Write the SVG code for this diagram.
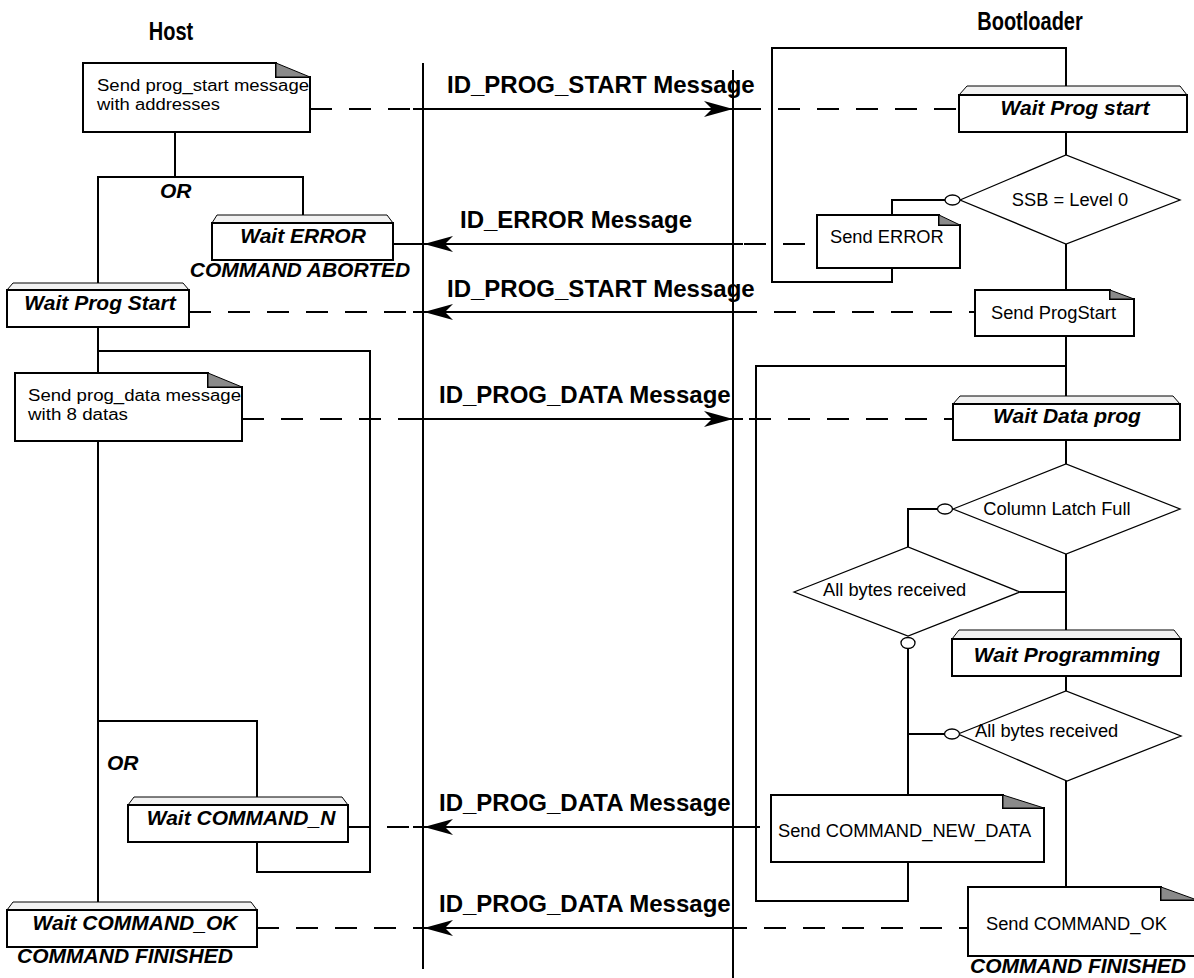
<svg xmlns="http://www.w3.org/2000/svg" width="1194" height="978" viewBox="0 0 1194 978">
<style>
.box{fill:#fff;stroke:#000;stroke-width:2}
.fold{fill:#8a8a8a;stroke:#000;stroke-width:1}
.bevel{fill:#f2f2f2;stroke:#000;stroke-width:1}
.dia{fill:#fff;stroke:#000;stroke-width:1.3}
.ln{fill:none;stroke:#000;stroke-width:2}
.dash{fill:none;stroke:#000;stroke-width:2;stroke-dasharray:22 17}
.circ{fill:#fff;stroke:#000;stroke-width:1.3}
text{font-family:"Liberation Sans",Arial,Helvetica,sans-serif;fill:#000}
.t{font-size:18.3px}
.t2{font-size:16px}
.s{font-size:21px;font-weight:bold;font-style:italic}
.m{font-size:24px;font-weight:bold}
.h{font-size:20px;font-weight:bold}
</style>
<defs>
<marker id="arr" viewBox="0 0 30 18" refX="29" refY="9" markerWidth="30" markerHeight="18" markerUnits="userSpaceOnUse" orient="auto">
<path d="M29,9 L0,1 L8,9 L0,17 Z" fill="#000"/>
</marker>
</defs>
<g id="titles">
<text class="h" transform="translate(171,40) scale(1,1.25)" text-anchor="middle">Host</text>
<text class="h" transform="translate(1030,30) scale(1,1.25)" text-anchor="middle">Bootloader</text>
</g>
<g id="connectors">
<line class="ln" x1="423" y1="63" x2="423" y2="969"/>
<line class="ln" x1="733" y1="70" x2="733" y2="978"/>
<polyline class="ln" points="175,132 175,177"/>
<polyline class="ln" points="98,283 98,177 303,177 303,215"/>
<polyline class="ln" points="98,327 98,902"/>
<polyline class="ln" points="98,351 370,351 370,872 257,872 257,842"/>
<polyline class="ln" points="98,721 257,721 257,797"/>
<polyline class="ln" points="892,268 892,282 772,282 772,48 1066,48 1066,86"/>
<polyline class="ln" points="1066,132 1066,155"/>
<polyline class="ln" points="892,215 892,200 945,200"/>
<polyline class="ln" points="1066,244 1066,290"/>
<polyline class="ln" points="1066,336 1066,396"/>
<polyline class="ln" points="1066,366 756,366 756,901 908,901 908,862"/>
<polyline class="ln" points="1066,440 1066,464"/>
<polyline class="ln" points="938,509 908,509 908,547"/>
<polyline class="ln" points="1066,554 1066,630"/>
<polyline class="ln" points="1020,592 1066,592"/>
<polyline class="ln" points="908,648 908,795"/>
<polyline class="ln" points="945,734 908,734"/>
<polyline class="ln" points="1066,676 1066,691"/>
<polyline class="ln" points="1066,781 1066,887"/>
<line class="dash" x1="310" y1="109" x2="959" y2="109"/>
<line class="ln" x1="413" y1="109" x2="743" y2="109"/>
<line class="ln" x1="413" y1="109" x2="733" y2="109" marker-end="url(#arr)"/>
<text class="m" x="447" y="93">ID_PROG_START Message</text>
<line class="dash" x1="393" y1="244" x2="817" y2="244"/>
<line class="ln" x1="413" y1="244" x2="743" y2="244"/>
<line class="ln" x1="743" y1="244" x2="424" y2="244" marker-end="url(#arr)"/>
<text class="m" x="460" y="228">ID_ERROR Message</text>
<line class="dash" x1="189" y1="312" x2="975" y2="312"/>
<line class="ln" x1="413" y1="312" x2="743" y2="312"/>
<line class="ln" x1="743" y1="312" x2="424" y2="312" marker-end="url(#arr)"/>
<text class="m" x="447" y="297">ID_PROG_START Message</text>
<line class="dash" x1="242" y1="419" x2="953" y2="419"/>
<line class="ln" x1="413" y1="419" x2="743" y2="419"/>
<line class="ln" x1="413" y1="419" x2="733" y2="419" marker-end="url(#arr)"/>
<text class="m" x="439" y="403">ID_PROG_DATA Message</text>
<line class="dash" x1="348" y1="827" x2="771" y2="827"/>
<line class="ln" x1="413" y1="827" x2="743" y2="827"/>
<line class="ln" x1="743" y1="827" x2="424" y2="827" marker-end="url(#arr)"/>
<text class="m" x="439" y="811">ID_PROG_DATA Message</text>
<line class="dash" x1="257" y1="928" x2="968" y2="928"/>
<line class="ln" x1="413" y1="928" x2="743" y2="928"/>
<line class="ln" x1="743" y1="928" x2="424" y2="928" marker-end="url(#arr)"/>
<text class="m" x="439" y="912">ID_PROG_DATA Message</text>
</g>
<g id="send_prog_start">
<path class="box" d="M83,63 H276 V77 H310 V132 H83 Z"/>
<path class="fold" d="M276,63 L310,77 L276,77 Z"/>
<text class="t2" x="97" y="91" textLength="212" lengthAdjust="spacingAndGlyphs">Send prog_start message</text>
<text class="t2" x="97" y="110" textLength="123" lengthAdjust="spacingAndGlyphs">with addresses</text>
</g>
<g id="or1"><text class="s" x="160" y="198">OR</text></g>
<g id="wait_error">
<polygon class="bevel" points="217,215 387,215 393,223 212,223"/>
<rect class="box" x="212" y="223" width="181" height="37"/>
<text class="s" x="303" y="243" text-anchor="middle">Wait ERROR</text>
<text class="s" x="300" y="277" text-anchor="middle">COMMAND ABORTED</text>
</g>
<g id="wait_prog_start_host">
<polygon class="bevel" points="13,283 183,283 189,290 7,290"/>
<rect class="box" x="7" y="290" width="182" height="37"/>
<text class="s" x="100" y="310" text-anchor="middle">Wait Prog Start</text>
</g>
<g id="send_prog_data">
<path class="box" d="M15,373 H208 V387 H242 V441 H15 Z"/>
<path class="fold" d="M208,373 L242,387 L208,387 Z"/>
<text class="t2" x="28" y="401" textLength="213" lengthAdjust="spacingAndGlyphs">Send prog_data message</text>
<text class="t2" x="28" y="420" textLength="100" lengthAdjust="spacingAndGlyphs">with 8 datas</text>
</g>
<g id="or2"><text class="s" x="107" y="770">OR</text></g>
<g id="wait_command_n">
<polygon class="bevel" points="134,797 342,797 348,805 128,805"/>
<rect class="box" x="128" y="805" width="220" height="37"/>
<text class="s" x="241" y="825" text-anchor="middle">Wait COMMAND_N</text>
</g>
<g id="wait_command_ok">
<polygon class="bevel" points="13,902 251,902 257,910 7,910"/>
<rect class="box" x="7" y="910" width="250" height="37"/>
<text class="s" x="135" y="930" text-anchor="middle">Wait COMMAND_OK</text>
<text class="s" x="125" y="963" text-anchor="middle">COMMAND FINISHED</text>
</g>
<g id="wait_prog_start_boot">
<polygon class="bevel" points="967,86 1180,86 1187,95 959,95"/>
<rect class="box" x="959" y="95" width="228" height="37"/>
<text class="s" x="1075" y="115" text-anchor="middle">Wait Prog start</text>
</g>
<g id="ssb_level0">
<polygon class="dia" points="960,200 1066,155 1180,200 1066,244"/>
<text class="t" x="1070" y="206" text-anchor="middle">SSB = Level 0</text>
<ellipse class="circ" cx="952.5" cy="200" rx="7.5" ry="5"/>
</g>
<g id="send_error">
<path class="box" d="M817,215 H939 V225 H960 V268 H817 Z"/>
<path class="fold" d="M939,215 L960,225 L939,225 Z"/>
<text class="t" x="830" y="243">Send ERROR</text>
</g>
<g id="send_progstart">
<path class="box" d="M975,290 H1110 V299 H1134 V336 H975 Z"/>
<path class="fold" d="M1110,290 L1134,299 L1110,299 Z"/>
<text class="t" x="991" y="319">Send ProgStart</text>
</g>
<g id="wait_data_prog">
<polygon class="bevel" points="960,396 1173,396 1180,404 953,404"/>
<rect class="box" x="953" y="404" width="227" height="36"/>
<text class="s" x="1067" y="423" text-anchor="middle">Wait Data prog</text>
</g>
<g id="column_latch_full">
<polygon class="dia" points="953,509 1066,464 1180,509 1066,554"/>
<text class="t" x="1057" y="515" text-anchor="middle">Column Latch Full</text>
<ellipse class="circ" cx="945" cy="509" rx="7.5" ry="5"/>
</g>
<g id="all_bytes_1">
<polygon class="dia" points="794,592 908,547 1020,592 908,636"/>
<text class="t" x="823" y="596">All bytes received</text>
<ellipse class="circ" cx="908" cy="643" rx="7" ry="5.5"/>
</g>
<g id="wait_programming">
<polygon class="bevel" points="959,630 1174,630 1181,639 952,639"/>
<rect class="box" x="952" y="639" width="229" height="37"/>
<text class="s" x="1067" y="662" text-anchor="middle">Wait Programming</text>
</g>
<g id="all_bytes_2">
<polygon class="dia" points="958,734 1066,691 1181,736 1067,781"/>
<text class="t" x="975" y="737">All bytes received</text>
<ellipse class="circ" cx="952" cy="734" rx="7.5" ry="5"/>
</g>
<g id="send_command_new_data">
<path class="box" d="M771,795 H1003 V808 H1044 V862 H771 Z"/>
<path class="fold" d="M1003,795 L1044,808 L1003,808 Z"/>
<text class="t" x="778" y="837">Send COMMAND_NEW_DATA</text>
</g>
<g id="send_command_ok">
<path class="box" d="M968,887 H1161 V900 H1197 V956 H968 Z"/>
<path class="fold" d="M1161,887 L1197,900 L1161,900 Z"/>
<text class="t" x="986" y="930">Send COMMAND_OK</text>
<text class="s" x="1078" y="973" text-anchor="middle">COMMAND FINISHED</text>
</g>
</svg>
